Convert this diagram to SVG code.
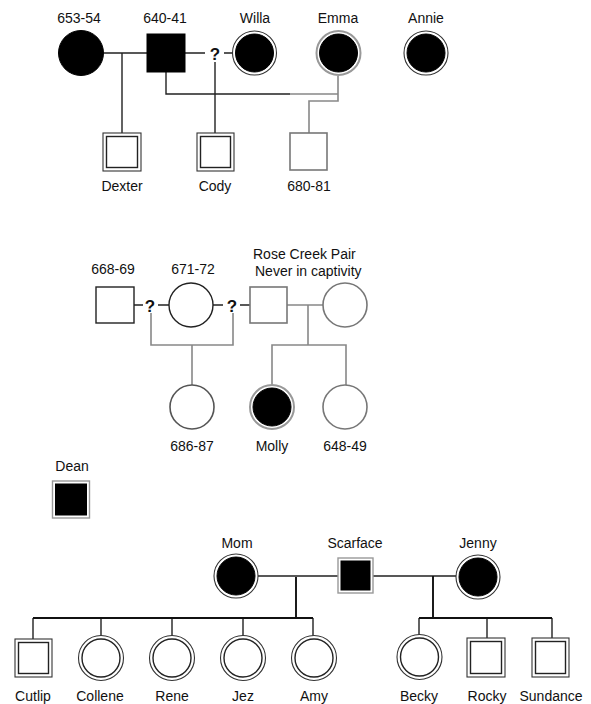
<svg xmlns="http://www.w3.org/2000/svg" width="591" height="704" viewBox="0 0 591 704">
<style>
text{font-family:"Liberation Sans",Arial,sans-serif;font-size:14px;fill:#111;text-anchor:middle}
.q{font-weight:bold;font-size:17px}
.ln{fill:none;stroke:#222;stroke-width:1.4}
.lb{fill:none;stroke:#111;stroke-width:1.9}
.lg{fill:none;stroke:#888;stroke-width:1.6}
.open{fill:#fff;stroke:#222;stroke-width:1.4}
.openg{fill:#fff;stroke:#777;stroke-width:1.6}
.fill{fill:#000;stroke:#000;stroke-width:1}
.outer{fill:#fff;stroke:#333;stroke-width:1.1}
.outerg{fill:#fff;stroke:#999;stroke-width:2}
.inner{fill:none;stroke:#222;stroke-width:1.4}
</style>
<rect width="591" height="704" fill="#fff"/>
<g id="connectors">
<path class="ln" d="M104,53H147M122,53V133"/>
<path class="ln" d="M185,53H205M224,53H232M215,62V133"/>
<path class="ln" d="M166,72V94H290"/>
<path class="lg" d="M290,94H338M338,76V101H309V133"/>
<path class="ln" d="M134,305H143M158,305H169M213,305H223M240,305H250"/>
<path class="lg" d="M151,313V345H233V313M192,345V385"/>
<path class="lg" d="M287,305H323M308,305V345M272,385V345H346V385"/>
<path class="ln" d="M258,576H338M33,639V618M101,618V636M172,618V636M243,618V636M313,618V636"/>
<path class="lb" d="M296,577V618M33,618H313"/>
<path class="ln" d="M373,576H456M419,635V618M487,618V638M552,618V638"/>
<path class="lb" d="M433,576V618M419,618H552"/>
</g>
<g id="n653-54"><circle class="fill" cx="81" cy="53" r="22.5"/><text x="79" y="23">653-54</text></g>
<g id="n640-41"><rect class="fill" x="147" y="34" width="38" height="38"/><text x="165" y="23">640-41</text></g>
<g id="q1"><text class="q" x="215" y="60">?</text></g>
<g id="Willa"><circle class="outer" cx="254.5" cy="53" r="22"/><circle class="fill" cx="254.5" cy="53" r="19"/><text x="255" y="23">Willa</text></g>
<g id="Emma"><circle class="outerg" cx="338.5" cy="53" r="22"/><circle class="fill" cx="338.5" cy="53" r="19"/><text x="338" y="23">Emma</text></g>
<g id="Annie"><circle class="outer" cx="426" cy="53" r="22"/><circle class="fill" cx="426" cy="53" r="19"/><text x="426" y="23">Annie</text></g>
<g id="Dexter"><rect class="outer" x="103" y="133" width="38" height="38"/><rect class="inner" x="106.5" y="136.5" width="31" height="31"/><text x="122" y="191">Dexter</text></g>
<g id="Cody"><rect class="outer" x="197" y="133" width="37" height="38"/><rect class="inner" x="200.5" y="136.5" width="30" height="31"/><text x="215" y="191">Cody</text></g>
<g id="n680-81"><rect class="openg" x="290" y="133" width="37" height="37"/><text x="309" y="191">680-81</text></g>

<g id="n668-69"><rect class="open" x="96" y="287" width="38" height="36"/><text x="113" y="274">668-69</text></g>
<g id="q2"><text class="q" x="150" y="312">?</text></g>
<g id="n671-72"><circle class="open" cx="191" cy="305" r="22"/><text x="193" y="274">671-72</text></g>
<g id="q3"><text class="q" x="232" y="312">?</text></g>
<g id="RoseCreekM"><rect class="openg" x="250" y="287" width="37" height="36"/></g>
<g id="RoseCreekF"><circle class="openg" cx="345" cy="305" r="22"/></g>
<g id="RoseCreekLabel"><text x="253" y="259" style="text-anchor:start">Rose Creek Pair</text><text x="255" y="276" style="text-anchor:start">Never in captivity</text></g>
<g id="n686-87"><circle class="openg" cx="192" cy="407" r="22" style="stroke:#555"/><text x="192" y="451">686-87</text></g>
<g id="Molly"><circle class="outerg" cx="272" cy="407" r="22"/><circle class="fill" cx="272" cy="407" r="19"/><text x="272" y="451">Molly</text></g>
<g id="n648-49"><circle class="openg" cx="345" cy="407" r="22"/><text x="345" y="451">648-49</text></g>

<g id="Dean"><rect class="outerg" x="52.5" y="481" width="37" height="37" style="stroke-width:1.4"/><rect class="fill" x="55.5" y="484" width="31" height="31"/><text x="72" y="471">Dean</text></g>
<g id="Mom"><circle class="outer" cx="236" cy="576" r="22"/><circle class="fill" cx="236" cy="576" r="19"/><text x="237" y="548">Mom</text></g>
<g id="Scarface"><rect class="outerg" x="338" y="558" width="35" height="35" style="stroke-width:1.4"/><rect class="fill" x="341" y="561" width="29" height="29"/><text x="355" y="548">Scarface</text></g>
<g id="Jenny"><circle class="outer" cx="478" cy="577" r="22"/><circle class="fill" cx="478" cy="577" r="19"/><text x="478" y="548">Jenny</text></g>

<g id="Cutlip"><rect class="outer" x="15" y="639" width="37" height="38"/><rect class="inner" x="18.5" y="642.5" width="30" height="31"/><text x="33" y="701">Cutlip</text></g>
<g id="Collene"><circle class="outer" cx="101" cy="658" r="22.5"/><circle class="inner" cx="101" cy="658" r="19"/><text x="100" y="701">Collene</text></g>
<g id="Rene"><circle class="outer" cx="172" cy="658" r="22.5"/><circle class="inner" cx="172" cy="658" r="19"/><text x="172" y="701">Rene</text></g>
<g id="Jez"><circle class="outer" cx="243" cy="658" r="22.5"/><circle class="inner" cx="243" cy="658" r="19"/><text x="243" y="701">Jez</text></g>
<g id="Amy"><circle class="outer" cx="314" cy="658" r="22.5"/><circle class="inner" cx="314" cy="658" r="19"/><text x="314" y="701">Amy</text></g>
<g id="Becky"><circle class="outer" cx="419.5" cy="657" r="22.5"/><circle class="inner" cx="419.5" cy="657" r="19"/><text x="419" y="701">Becky</text></g>
<g id="Rocky"><rect class="outer" x="467" y="638" width="38" height="39"/><rect class="inner" x="470.5" y="641.5" width="31" height="32"/><text x="487" y="701">Rocky</text></g>
<g id="Sundance"><rect class="outer" x="532" y="638" width="37" height="39"/><rect class="inner" x="535.5" y="641.5" width="30" height="32"/><text x="551" y="701">Sundance</text></g>
</svg>
